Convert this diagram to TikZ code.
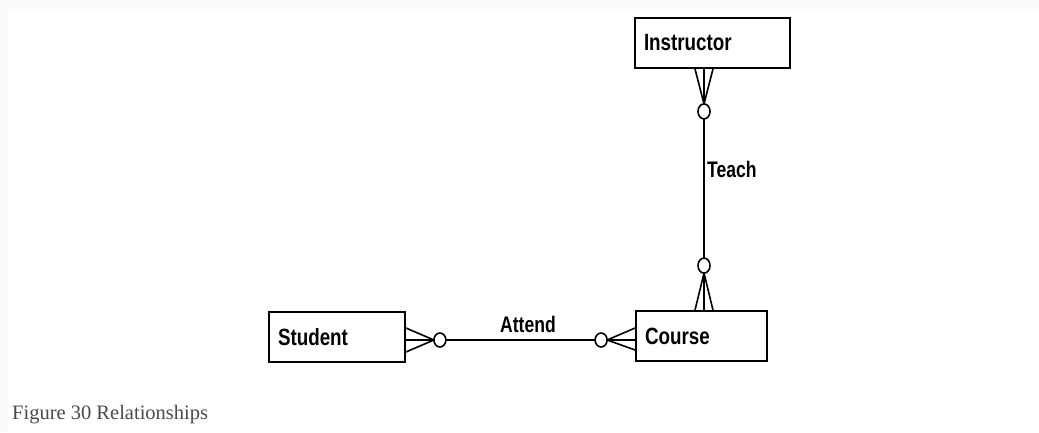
\documentclass[tikz,border=0pt]{standalone}
\usepackage{fontspec}
\setmainfont{Liberation Serif}
\newfontfamily\erfont[FakeStretch=0.8]{Liberation Sans}
\newfontfamily\lbfont[FakeStretch=0.78]{Liberation Sans}
\usetikzlibrary{calc}
\definecolor{bandgray}{HTML}{FAFAFA}
\definecolor{capgray}{HTML}{4A4A4A}
\tikzset{
  entity/.style={draw=black, line width=1.8pt, fill=white, inner xsep=9pt, inner ysep=0pt,
    minimum height=50pt, align=left, font=\erfont\bfseries\fontsize{23.5}{27}\selectfont},
  rel/.style={draw=black, line width=1.6pt, line join=round},
  rellabel/.style={inner sep=0pt, font=\lbfont\bfseries\fontsize{22.5}{26}\selectfont},
}
\begin{document}
\begin{tikzpicture}[x=1pt,y=-1pt]
\useasboundingbox (0,0) rectangle (1039,432);
\fill[bandgray] (0,0) rectangle (1039,432);
\fill[white] (8,9) rectangle (1039,432);

% entities
\node[entity, text width=137pt] (instr) at (712.5,43) {Instructor};
\node[entity, text width=118pt] (student) at (337,337) {Student};
\node[entity, text width=113pt] (course) at (701.5,336) {Course};

% reference coordinates for connector axes
\coordinate (v) at (704,0);
\coordinate (h) at (0,340);

% Instructor -- Course (Teach)
\path (instr.south -| v) coordinate (iF);
\path (course.north -| v) coordinate (cT);
\coordinate (iApex) at ($(iF)+(0,35)$);
\coordinate (iO) at ($(iF)+(0,42.5)$);
\coordinate (cApex) at ($(cT)+(0,-37)$);
\coordinate (cO) at ($(cT)+(0,-44.5)$);
\draw[rel] ($(iF)+(-9,0)$) -- (iApex) -- ($(iF)+(9,0)$);
\draw[rel] (iF) -- (iApex);
\draw[rel] (iO) ellipse[x radius=6, y radius=7.5];
\draw[rel] ($(cT)+(-9,0)$) -- (cApex) -- ($(cT)+(9,0)$);
\draw[rel] (cT) -- (cApex);
\draw[rel] (cO) ellipse[x radius=6, y radius=7.5];
\draw[rel] ($(iO)+(0,7.5)$) -- ($(cO)+(0,-7.5)$);

% Student -- Course (Attend)
\path (student.east |- h) coordinate (sF);
\path (course.west |- h) coordinate (cL);
\coordinate (sApex) at ($(sF)+(28,0)$);
\coordinate (sO) at ($(sF)+(34,0)$);
\coordinate (lApex) at ($(cL)+(-28,0)$);
\coordinate (lO) at ($(cL)+(-34,0)$);
\draw[rel] ($(sF)+(0,-12)$) -- (sApex) -- ($(sF)+(0,12)$);
\draw[rel] (sF) -- (sApex);
\draw[rel] (sO) ellipse[x radius=6, y radius=7];
\draw[rel] ($(cL)+(0,-12)$) -- (lApex) -- ($(cL)+(0,10)$);
\draw[rel] (cL) -- (lApex);
\draw[rel] (lO) ellipse[x radius=6, y radius=7];
\draw[rel] ($(sO)+(6,0)$) -- ($(lO)+(-6,0)$);

% labels
\node[rellabel, anchor=base west] (teach) at (707,177) {Teach};
\node[rellabel, anchor=base west] (attend) at (500,332) {Attend};

% caption
\node[anchor=base west, inner sep=0pt, text=capgray, font=\fontsize{20.5}{24}\selectfont] (caption) at (12,419) {Figure 30 Relationships};
\end{tikzpicture}
\end{document}
